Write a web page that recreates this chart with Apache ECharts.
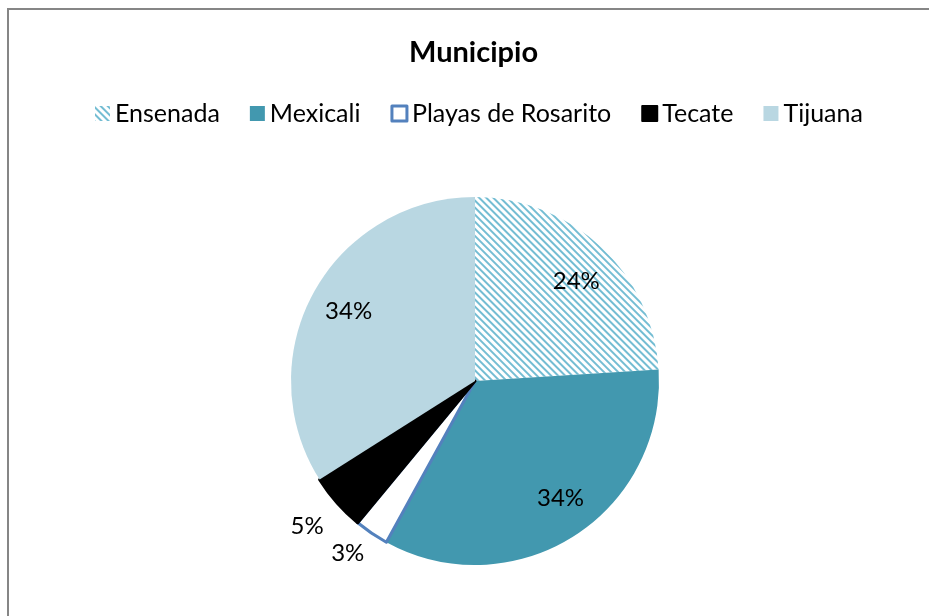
<!DOCTYPE html>
<html>
<head>
<meta charset="utf-8">
<script src="https://cdn.jsdelivr.net/npm/echarts@6/dist/echarts.min.js"></script>
<style>
  html, body { margin: 0; padding: 0; background: #fff; }
  #main { width: 929px; height: 616px; }
</style>
</head>
<body>
<div id="main"></div>
<script>
var municipios = ['Ensenada', 'Mexicali', 'Playas de Rosarito', 'Tecate', 'Tijuana'];
var porcentajes = [24, 34, 3, 5, 34];
var colores = ['#ffffff', '#4298AF', '#ffffff', '#000000', '#B9D7E2'];
// small nudges so the labels sit where Excel put them
var labelOffsets = [[1, 7], [7, -6], [-3, -11], [-2, -1], [2, 1]];

var myChart = echarts.init(document.getElementById('main'));
var FONT = 'Lato';
var CX = 475, CY = 381, R = 184;

var slices = municipios.map(function (name, i) {
    var item = {
        name: name,
        value: porcentajes[i],
        itemStyle: { color: colores[i], borderWidth: 0 }
    };
    if (name === 'Ensenada') {
        item.itemStyle.decal = {
            symbol: 'rect',
            symbolSize: 1,
            dashArrayX: [1, 0],
            dashArrayY: [2, 3],
            rotation: Math.PI / 4,
            color: '#74BDD3',
            backgroundColor: '#ffffff'
        };
    }
    if (name === 'Playas de Rosarito') {
        item.itemStyle.borderWidth = 3;
        item.itemStyle.borderColor = '#5381BD';
    }
    if (name === 'Tecate') {
        // covers the blue edge on the Tecate side
        item.itemStyle.borderWidth = 3;
        item.itemStyle.borderColor = '#000000';
    }
    return item;
});

// label helper series (invisible), inner for large slices, outer for small ones
function labelData(showFn) {
    return municipios.map(function (name, i) {
        return {
            name: name,
            value: porcentajes[i],
            label: {
                show: showFn(porcentajes[i]),
                offset: labelOffsets[i],
                formatter: '{p|{c}%}',
                rich: { p: { fontFamily: FONT, fontSize: 24, color: '#000' } }
            }
        };
    });
}

var legendData = municipios.map(function (name) {
    if (name === 'Playas de Rosarito') {
        return { name: name, itemStyle: { borderWidth: 3, borderColor: '#5381BD', color: '#fff' } };
    }
    return { name: name };
});

var option = {
    animation: false,
    textStyle: { fontFamily: FONT },
    title: {
        text: 'Municipio',
        left: 404,
        top: 33,
        textStyle: { fontFamily: FONT, fontSize: 29, fontWeight: 'bold', color: '#000' }
    },
    legend: {
        top: 96,
        left: 90,
        itemWidth: 15,
        itemHeight: 15,
        itemGap: 30,
        icon: 'rect',
        data: legendData,
        textStyle: { fontFamily: FONT, fontSize: 25, color: '#000', padding: [0, 0, 0, 0] }
    },
    graphic: [{
        type: 'rect',
        shape: { x: 8, y: 9, width: 1000, height: 1000 },
        style: { fill: 'none', stroke: '#868686', lineWidth: 2 },
        silent: true
    }],
    series: [
        {
            type: 'pie',
            center: [CX, CY],
            radius: [0, R],
            startAngle: 90,
            clockwise: true,
            label: { show: false },
            labelLine: { show: false },
            emphasis: { disabled: true },
            data: slices
        },
        {
            type: 'pie',
            center: [CX, CY],
            radius: [R * 0.56, R],
            startAngle: 90,
            clockwise: true,
            silent: true,
            itemStyle: { color: 'transparent' },
            label: { position: 'inside', fontFamily: FONT },
            labelLine: { show: false },
            data: labelData(function (v) { return v > 10; })
        },
        {
            type: 'pie',
            center: [CX, CY],
            radius: [R, R * 1.37],
            startAngle: 90,
            clockwise: true,
            silent: true,
            itemStyle: { color: 'transparent' },
            label: { position: 'inside', fontFamily: FONT },
            labelLine: { show: false },
            data: labelData(function (v) { return v <= 10; })
        }
    ]
};

myChart.setOption(option);
</script>
</body>
</html>
